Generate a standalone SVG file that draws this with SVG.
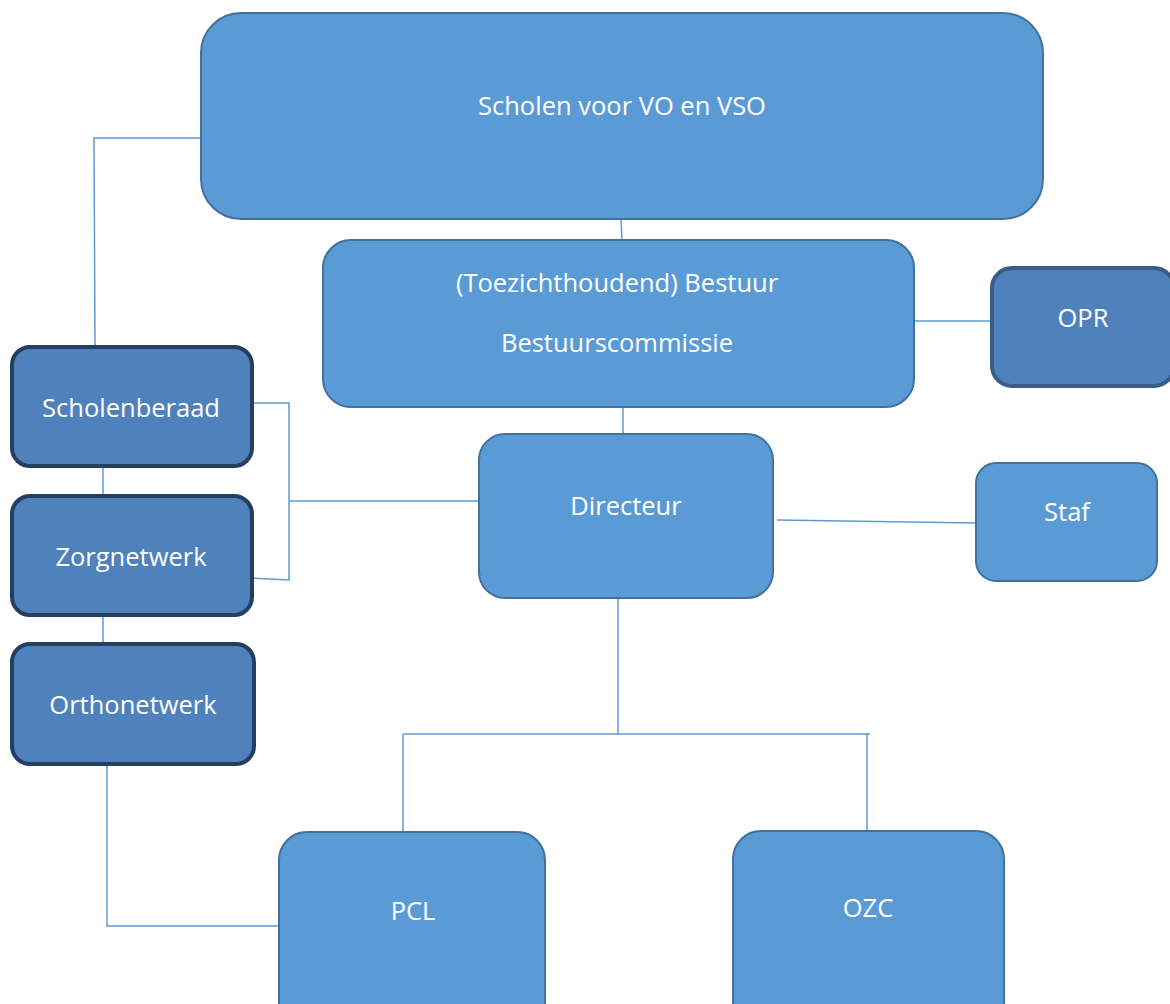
<svg xmlns="http://www.w3.org/2000/svg" width="1170" height="1004" viewBox="0 0 1170 1004">
<style>
.n{fill:#5B9BD5;stroke:#41719C;stroke-width:2}
.d{fill:#4F81BD;stroke:#243F60;stroke-width:4}
.o{fill:#4F81BD;stroke:#385D8A;stroke-width:4}
.t{fill:#fff;font-family:"Open Sans","Noto Sans",sans-serif;font-size:25.5px;text-anchor:middle}
.c{stroke:#5B9BD5;stroke-width:1.5;fill:none}
</style>
<rect width="1170" height="1004" fill="#fff"/>
<g id="connectors">
<polyline class="c" points="201,138 94,138 95,348"/>
<line class="c" x1="621" y1="219" x2="622" y2="240"/>
<line class="c" x1="914" y1="321" x2="991" y2="321"/>
<line class="c" x1="623" y1="407" x2="623" y2="434"/>
<line class="c" x1="777" y1="520" x2="976" y2="523"/>
<line class="c" x1="103" y1="466" x2="103" y2="495"/>
<line class="c" x1="103" y1="615" x2="103" y2="643"/>
<polyline class="c" points="252,403 289,403 289,580 250,578"/>
<line class="c" x1="289" y1="501" x2="479" y2="501"/>
<polyline class="c" points="107,764 107,926 279,926"/>
<line class="c" x1="618" y1="598" x2="618" y2="734"/>
<line class="c" x1="403" y1="734" x2="870" y2="734"/>
<line class="c" x1="403" y1="734" x2="403" y2="832"/>
<line class="c" x1="867" y1="734" x2="867" y2="831"/>
</g>
<g id="scholen"><rect class="n" x="201" y="13" width="842" height="206" rx="40"/><text class="t" x="622" y="115">Scholen voor VO en VSO</text></g>
<g id="bestuur"><rect class="n" x="323" y="240" width="591" height="167" rx="28"/><text class="t" x="617" y="292">(Toezichthoudend) Bestuur</text><text class="t" x="617" y="352">Bestuurscommissie</text></g>
<g id="opr"><rect class="o" x="992" y="268" width="182" height="118" rx="20"/><text class="t" x="1083" y="327">OPR</text></g>
<g id="directeur"><rect class="n" x="479" y="434" width="294" height="164" rx="26"/><text class="t" x="626" y="515">Directeur</text></g>
<g id="staf"><rect class="n" x="976" y="463" width="181" height="118" rx="20"/><text class="t" x="1067" y="521">Staf</text></g>
<g id="scholenberaad"><rect class="d" x="12" y="347" width="240" height="119" rx="18"/><text class="t" x="131" y="417">Scholenberaad</text></g>
<g id="zorgnetwerk"><rect class="d" x="12" y="496" width="240" height="119" rx="18"/><text class="t" x="131" y="566">Zorgnetwerk</text></g>
<g id="orthonetwerk"><rect class="d" x="12" y="644" width="242" height="120" rx="18"/><text class="t" x="133" y="714">Orthonetwerk</text></g>
<g id="pcl"><rect class="n" x="279" y="832" width="266" height="200" rx="28"/><text class="t" x="413" y="920">PCL</text></g>
<g id="ozc"><rect class="n" x="733" y="831" width="271" height="200" rx="28"/><text class="t" x="868" y="917">OZC</text></g>
</svg>
